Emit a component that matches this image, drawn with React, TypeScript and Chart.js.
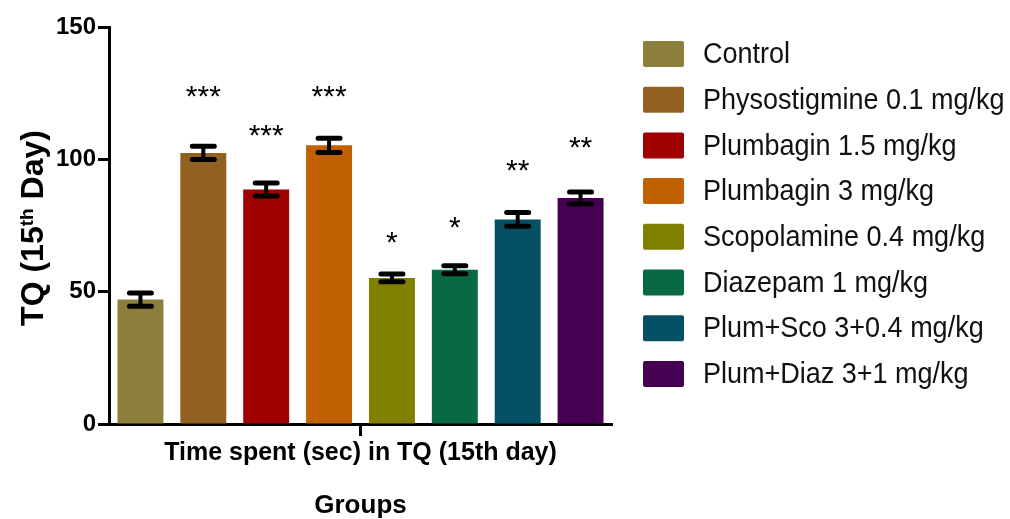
import React, { useEffect, useRef } from 'react';
import { Chart, registerables } from 'chart.js';

Chart.register(...registerables);

// Treatment groups shown as separate bars within the single category
const groups = [
  'Control',
  'Physostigmine 0.1 mg/kg',
  'Plumbagin 1.5 mg/kg',
  'Plumbagin 3 mg/kg',
  'Scopolamine 0.4 mg/kg',
  'Diazepam 1 mg/kg',
  'Plum+Sco 3+0.4 mg/kg',
  'Plum+Diaz 3+1 mg/kg',
];
const category = ['Time spent (sec) in TQ (15th day)'];

// Mean time spent (sec) and SEM
const meanTime = [47.0, 102.4, 88.6, 105.3, 55.2, 58.3, 77.3, 85.4];
const semTime = [2.5, 2.5, 2.5, 2.7, 1.5, 1.5, 2.6, 2.3];

// Significance marks and the y level (axis units) at which each is written
const significance = ['', '***', '***', '***', '*', '*', '**', '**'];
const markLevel = [0, 126.6, 111.8, 126.6, 71.4, 77.1, 98.8, 107.3];

const groupColors = [
  '#8C7E3B',
  '#926121',
  '#A00000',
  '#C06000',
  '#808000',
  '#086A42',
  '#055064',
  '#450052',
];

const yMin = 0;
const yMax = 150;
const yStep = 50;

const FONT = '"Liberation Sans", Arial, sans-serif';

const errorBarPlugin = {
  id: 'errorBars',
  afterDatasetsDraw(chart: any) {
    const ctx = chart.ctx as CanvasRenderingContext2D;
    const y = chart.scales.y;
    ctx.save();
    ctx.strokeStyle = '#000';
    ctx.fillStyle = '#000';
    chart.data.datasets.forEach((_: any, i: number) => {
      const meta = chart.getDatasetMeta(i);
      const bar = meta.data[0];
      if (!bar) return;
      const cx = bar.x;
      const hi = y.getPixelForValue(meanTime[i] + semTime[i]);
      const lo = y.getPixelForValue(meanTime[i] - semTime[i]);
      ctx.lineCap = 'butt';
      ctx.lineWidth = 4;
      ctx.beginPath();
      ctx.moveTo(cx, hi);
      ctx.lineTo(cx, lo);
      ctx.stroke();
      ctx.lineCap = 'round';
      ctx.lineWidth = 5;
      ctx.beginPath();
      ctx.moveTo(cx - 11, hi);
      ctx.lineTo(cx + 11, hi);
      ctx.moveTo(cx - 11, lo);
      ctx.lineTo(cx + 11, lo);
      ctx.stroke();

      const mark = significance[i];
      if (mark) {
        ctx.font = `30px ${FONT}`;
        ctx.textAlign = 'center';
        ctx.textBaseline = 'alphabetic';
        const my = y.getPixelForValue(markLevel[i]);
        ctx.fillText(mark, cx, my + 17);
      }
    });
    ctx.restore();
  },
};

const legendPlugin = {
  id: 'sideLegend',
  afterDraw(chart: any) {
    const ctx = chart.ctx as CanvasRenderingContext2D;
    ctx.save();
    groups.forEach((name, i) => {
      const top = 41 + i * 45.7;
      ctx.fillStyle = groupColors[i];
      ctx.beginPath();
      (ctx as any).roundRect(643, top, 41, 26, 2);
      ctx.fill();
      // slightly condensed label text
      ctx.save();
      ctx.translate(703, top + 14);
      ctx.scale(0.9, 1);
      ctx.font = `30px ${FONT}`;
      ctx.textAlign = 'left';
      ctx.textBaseline = 'middle';
      ctx.fillStyle = '#111';
      ctx.fillText(name, 0, 0);
      ctx.restore();
    });
    ctx.restore();
  },
};

const yTitlePlugin = {
  id: 'yTitle',
  afterDraw(chart: any) {
    const ctx = chart.ctx as CanvasRenderingContext2D;
    const big = `bold 32px ${FONT}`;
    const small = `bold 19px ${FONT}`;
    const parts = [
      { text: 'TQ (15', font: big, dy: 11.5 },
      { text: 'th', font: small, dy: 1.5 },
      { text: ' Day)', font: big, dy: 11.5 },
    ];
    ctx.save();
    let total = 0;
    const widths = parts.map((p) => {
      ctx.font = p.font;
      const w = ctx.measureText(p.text).width;
      total += w;
      return w;
    });
    ctx.translate(31, 228);
    ctx.rotate(-Math.PI / 2);
    ctx.fillStyle = '#000';
    ctx.textAlign = 'left';
    ctx.textBaseline = 'alphabetic';
    let x = -total / 2;
    parts.forEach((p, i) => {
      ctx.font = p.font;
      ctx.fillText(p.text, x, p.dy);
      x += widths[i];
    });
    ctx.restore();
  },
};

export default function App() {
  const canvasRef = useRef<HTMLCanvasElement | null>(null);

  useEffect(() => {
    const canvas = canvasRef.current;
    if (!canvas) return;
    const chart = new Chart(canvas, {
      type: 'bar',
      data: {
        labels: category,
        datasets: groups.map((g, i) => ({
          label: g,
          data: [meanTime[i]],
          backgroundColor: groupColors[i],
          borderWidth: 0,
          categoryPercentage: 1,
          barPercentage: 0.731,
        })),
      },
      options: {
        responsive: false,
        animation: false,
        devicePixelRatio: 1,
        layout: { padding: { left: 0, right: 398, top: 27, bottom: 0 } },
        plugins: {
          legend: { display: false },
          tooltip: { enabled: false },
          title: { display: false },
        },
        scales: {
          x: {
            offset: true,
            grid: {
              display: true,
              drawOnChartArea: false,
              drawTicks: true,
              tickLength: 12,
              tickWidth: 3,
              tickColor: '#000',
              offset: false,
            },
            border: { display: true, color: '#000', width: 3 },
            ticks: {
              color: '#000',
              padding: 2,
              maxRotation: 0,
              font: { family: FONT, size: 25, weight: 'bold', lineHeight: 1.2 },
            },
            title: {
              display: true,
              text: 'Groups',
              color: '#000',
              padding: 0,
              font: { family: FONT, size: 26, weight: 'bold', lineHeight: 1 },
            },
            afterFit(scale: any) {
              scale.height = 95;
            },
          },
          y: {
            min: yMin,
            max: yMax,
            grid: {
              display: true,
              drawOnChartArea: false,
              drawTicks: true,
              tickLength: 11,
              tickWidth: 3,
              tickColor: '#000',
            },
            border: { display: true, color: '#000', width: 3 },
            ticks: {
              stepSize: yStep,
              color: '#000',
              padding: 2,
              font: { family: FONT, size: 24, weight: 'bold', lineHeight: 1.2 },
            },
            afterFit(scale: any) {
              scale.width = 109;
            },
          },
        },
      },
      plugins: [errorBarPlugin, legendPlugin, yTitlePlugin],
    } as any);
    return () => chart.destroy();
  }, []);

  return (
    <div style={{ position: 'absolute', left: 0, top: 0, width: 1010, height: 519, background: '#fff' }}>
      <canvas ref={canvasRef} width={1010} height={519} style={{ display: 'block', width: 1010, height: 519 }} />
    </div>
  );
}
